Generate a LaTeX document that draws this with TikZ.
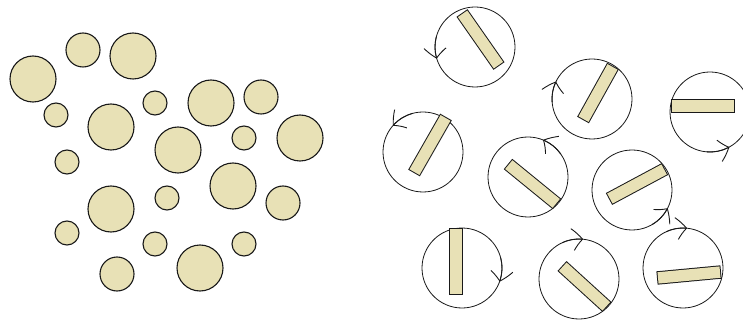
\documentclass[tikz,border=0pt]{standalone}
\usepackage{tikz}
\usetikzlibrary{arrows.meta,bending}
\definecolor{grain}{RGB}{232,225,182}
\definecolor{ink}{RGB}{25,25,25}

\begin{document}
\begin{tikzpicture}[x=1pt,y=1pt,yscale=-1,
  bead/.style={draw=ink,fill=grain,line width=1.1pt},
  rotor/.style={draw=ink,line width=0.8pt},
  rodedge/.style={draw=ink,line width=13.4pt},
  rodfill/.style={draw=grain,line width=11.4pt,shorten <=1pt,shorten >=1pt},
  spin/.style={draw=ink,line width=0.9pt,-{Straight Barb[length=10pt,width=22pt,bend]}}
]
\useasboundingbox (0,0) rectangle (743,320);
\foreach \x/\y/\r in {33/79/23,83/50/17,133/56/23,56/115/12,111/127/23,155/103/12,
  211/103/23,261/97/17,178/150/23,244/138/12,300/138/23,67/162/12,111/209/23,
  167/198/12,233/186/23,283/203/17,67/233/12,155/244/12,200/268/23,244/244/12,117/274/17}
  \draw[bead] (\x,\y) circle[radius=\r];
\foreach \cx/\cy/\xa/\ya/\xb/\yb/\sa/\ea in {
  475/47/462/13/499/66/195/163,
  592/99/613/66/583/120/175/206,
  710/112/671/106/735/106/95/61,
  423/152/446/117/414/173/255/221,
  528/177/508/164/557/204/325/292,
  632/190/665/169/609/199/60/27,
  683/268/657/278/721/272/245/276,
  462/268/456/228/456/295/-15/20,
  579/279/562/266/607/307/245/276}{
  \draw[rotor] (\cx,\cy) circle[radius=40];
  \draw[rodedge] (\xa,\ya) -- (\xb,\yb);
  \draw[rodfill] (\xa,\ya) -- (\xb,\yb);
  \draw[spin] (\cx,\cy) ++(\sa:40) arc[start angle=\sa,end angle=\ea,radius=40];
}
\end{tikzpicture}
\end{document}
